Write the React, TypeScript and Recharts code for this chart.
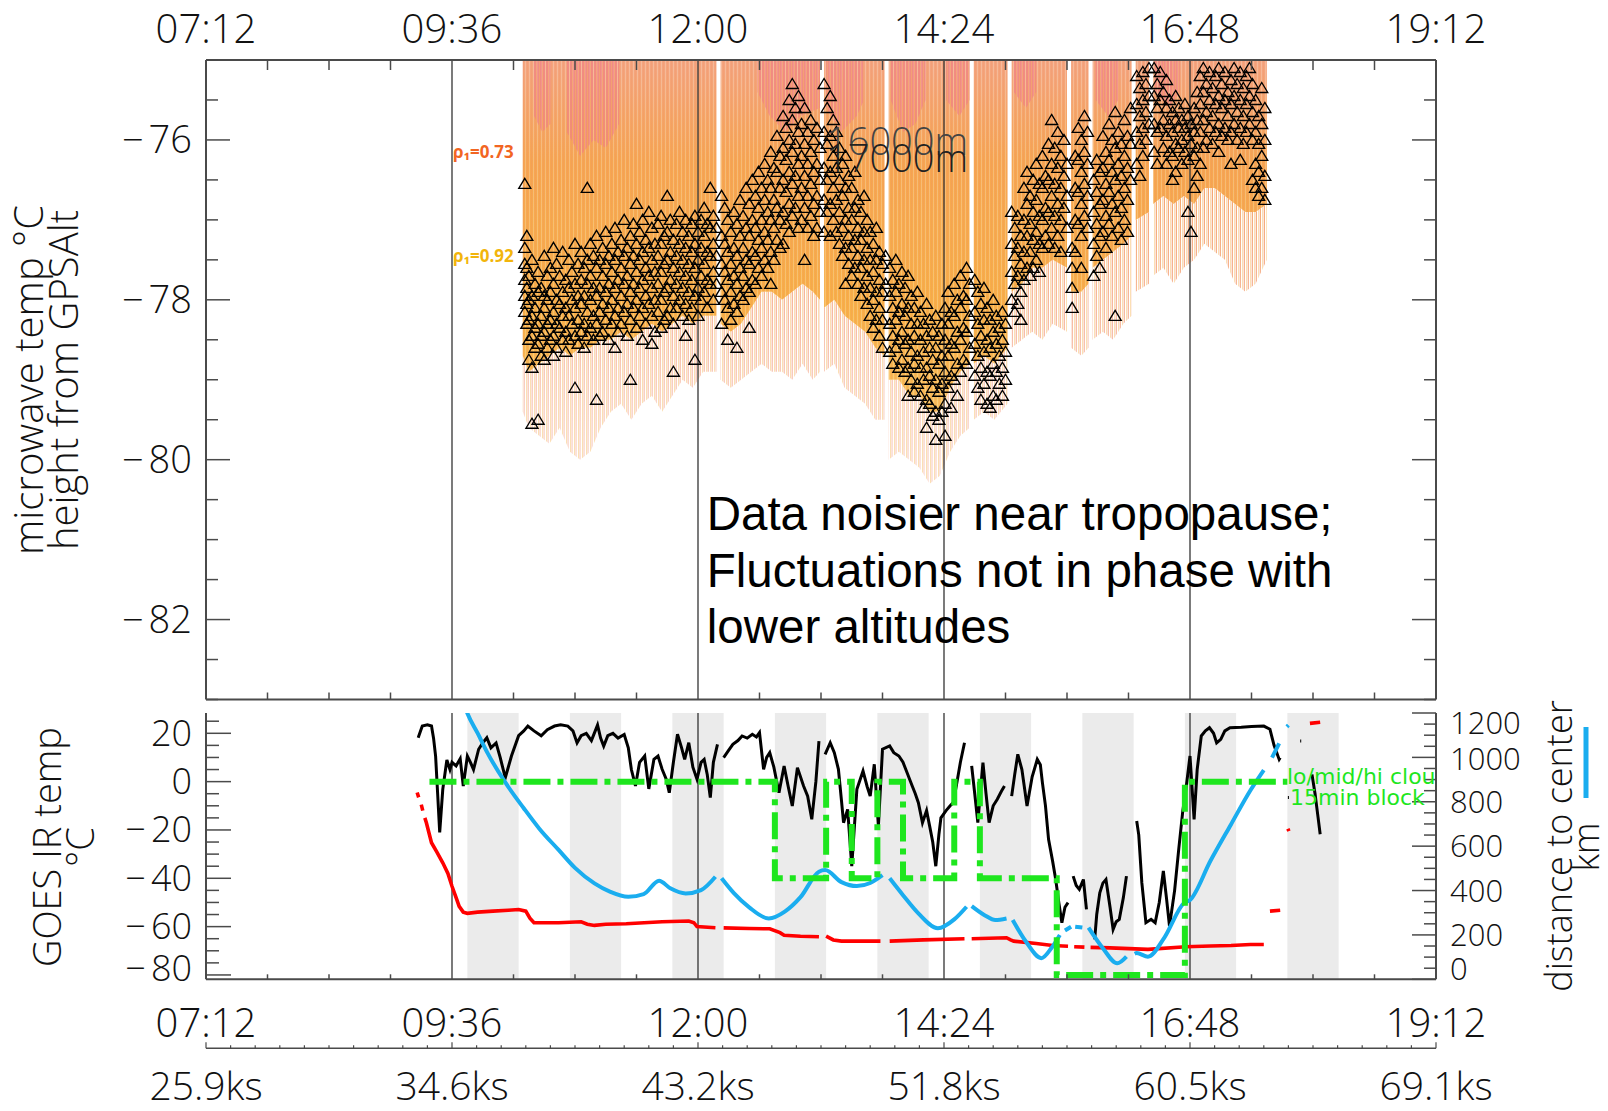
import React from 'react';
import { ComposedChart, Area, Line, Scatter, XAxis, YAxis, ReferenceLine, ReferenceArea } from 'recharts';

// time axis (decimal hours) and its labels
const hourTicks = [7.2, 9.6, 12, 14.4, 16.8, 19.2];
const hourLabels = ['07:12', '09:36', '12:00', '14:24', '16:48', '19:12'];
const ksLabels = ['25.9ks', '34.6ks', '43.2ks', '51.8ks', '60.5ks', '69.1ks'];
const dividerHours = [9.6, 12, 14.4, 16.8];

// microwave temperature at the GPS altitude level: [hour, samples...]
const triangleRows: number[][] = [
  [10.31, -76.55, -77.35, -77.55, -77.75, -77.95, -78.15],
  [10.33, -77.2, -77.6, -77.85, -78.05, -78.3],
  [10.35, -77.7, -78.0, -78.25, -78.5, -78.75],
  [10.38, -77.5, -77.95, -78.2, -78.45, -78.85, -79.55],
  [10.41, -77.8, -78.1, -78.35, -78.6],
  [10.44, -77.65, -77.9, -78.3, -78.55, -79.5],
  [10.47, -77.85, -78.2, -78.45, -78.7],
  [10.5, -77.45, -77.95, -78.1, -78.4, -78.75],
  [10.53, -77.7, -78.0, -78.3, -78.6],
  [10.56, -77.6, -77.9, -78.25, -78.5],
  [10.59, -77.35, -77.8, -78.15, -78.45, -78.7],
  [10.62, -77.55, -78.0, -78.3, -78.6],
  [10.65, -77.7, -78.05, -78.35],
  [10.68, -77.4, -77.9, -78.2, -78.5],
  [10.71, -77.75, -78.1, -78.4, -78.65],
  [10.74, -77.5, -77.85, -78.2, -78.5],
  [10.77, -77.65, -78.0, -78.3],
  [10.8, -77.3, -77.8, -78.1, -78.45, -79.1],
  [10.83, -77.55, -77.95, -78.25, -78.55],
  [10.86, -77.4, -77.75, -78.05, -78.4],
  [10.89, -77.6, -77.95, -78.3, -78.6],
  [10.92, -76.6, -77.5, -77.8, -78.15, -78.45],
  [10.95, -77.3, -77.7, -78.0, -78.35],
  [10.98, -77.45, -77.85, -78.2, -78.5],
  [11.01, -77.2, -77.6, -77.95, -78.3, -79.25],
  [11.04, -77.5, -77.85, -78.15, -78.45],
  [11.07, -77.35, -77.7, -78.05, -78.4],
  [11.1, -77.15, -77.55, -77.9, -78.25],
  [11.13, -77.45, -77.8, -78.1, -78.5],
  [11.16, -77.3, -77.65, -78.0, -78.3],
  [11.19, -77.1, -77.5, -77.85, -78.2, -78.6],
  [11.22, -77.4, -77.75, -78.1, -78.4],
  [11.25, -77.25, -77.6, -77.95, -78.3],
  [11.28, -77.0, -77.45, -77.8, -78.15],
  [11.31, -77.35, -77.7, -78.05, -78.45],
  [11.34, -77.2, -77.55, -77.9, -78.25, -79.0],
  [11.37, -77.05, -77.45, -77.8, -78.1],
  [11.4, -76.8, -77.3, -77.65, -78.0, -78.35],
  [11.43, -77.15, -77.5, -77.85, -78.2],
  [11.46, -77.0, -77.4, -77.75, -78.1, -78.5],
  [11.49, -77.25, -77.6, -77.95, -78.3],
  [11.52, -76.9, -77.35, -77.7, -78.05],
  [11.55, -77.1, -77.5, -77.85, -78.2, -78.55],
  [11.58, -77.3, -77.65, -78.0, -78.4],
  [11.61, -77.05, -77.45, -77.8, -78.15],
  [11.64, -76.95, -77.3, -77.65, -78.0, -78.35],
  [11.67, -77.2, -77.55, -77.9, -78.25],
  [11.7, -76.7, -77.15, -77.5, -77.85, -78.2],
  [11.73, -77.0, -77.4, -77.75, -78.1],
  [11.76, -77.25, -77.6, -77.95, -78.3, -78.9],
  [11.79, -77.05, -77.45, -77.8, -78.1],
  [11.82, -76.9, -77.3, -77.65, -78.0],
  [11.85, -77.15, -77.5, -77.85, -78.2],
  [11.88, -77.0, -77.35, -77.7, -78.05, -78.45],
  [11.91, -77.2, -77.55, -77.9, -78.25],
  [11.94, -77.05, -77.4, -77.75, -78.1],
  [11.97, -76.95, -77.3, -77.6, -77.95, -78.75],
  [12.0, -77.15, -77.5, -77.85, -78.2],
  [12.03, -77.0, -77.35, -77.7, -78.0],
  [12.06, -76.85, -77.2, -77.55, -77.9],
  [12.09, -77.05, -77.4, -77.75, -78.1],
  [12.12, -76.6, -77.1, -77.45, -77.8],
  [12.15, -76.95, -77.3, -77.65, -78.0],
  [12.18, -77.1, -77.45, -77.8],
  [12.23, -76.7, -77.2, -77.55, -77.9, -78.3],
  [12.26, -76.85, -77.3, -77.65, -78.0],
  [12.29, -77.0, -77.4, -77.75, -78.1, -78.5],
  [12.32, -77.15, -77.55, -77.9, -78.25],
  [12.35, -76.9, -77.35, -77.7, -78.05],
  [12.38, -77.05, -77.45, -77.8, -78.15, -78.6],
  [12.41, -76.75, -77.2, -77.6, -77.95],
  [12.44, -76.95, -77.35, -77.7, -78.0],
  [12.47, -76.6, -77.1, -77.5, -77.85],
  [12.5, -76.8, -77.2, -77.55, -77.9, -78.35],
  [12.53, -76.5, -77.0, -77.4, -77.75],
  [12.56, -76.7, -77.1, -77.45, -77.8],
  [12.59, -76.4, -76.85, -77.25, -77.6],
  [12.62, -76.6, -77.0, -77.35, -77.7],
  [12.65, -76.3, -76.75, -77.15, -77.5],
  [12.68, -76.5, -76.9, -77.25, -77.6],
  [12.71, -76.15, -76.6, -77.0, -77.4, -77.8],
  [12.74, -76.35, -76.75, -77.1, -77.5],
  [12.77, -75.95, -76.4, -76.85, -77.25],
  [12.8, -76.2, -76.6, -77.0, -77.35],
  [12.83, -75.7, -76.1, -76.5, -76.9, -77.3],
  [12.86, -75.85, -76.25, -76.65, -77.05],
  [12.89, -75.5, -76.0, -76.4, -76.8, -77.15],
  [12.92, -75.3, -75.75, -76.15, -76.55, -76.95],
  [12.95, -75.6, -76.05, -76.45, -76.85],
  [12.98, -75.45, -75.9, -76.3, -76.7, -77.1],
  [13.01, -75.8, -76.2, -76.6, -77.0],
  [13.04, -75.6, -76.05, -76.45, -76.85, -77.5],
  [13.07, -75.9, -76.3, -76.7, -77.1],
  [13.1, -75.75, -76.15, -76.55, -76.95],
  [13.13, -76.0, -76.4, -76.8, -77.2],
  [13.16, -75.85, -76.3, -76.7, -77.1],
  [13.19, -76.1, -76.5, -76.9],
  [13.23, -75.3, -75.9, -76.35, -76.75, -77.15],
  [13.26, -75.6, -76.05, -76.5, -76.9],
  [13.29, -75.45, -75.95, -76.4, -76.8, -77.2],
  [13.32, -75.75, -76.2, -76.6, -77.0],
  [13.35, -75.9, -76.35, -76.75, -77.15],
  [13.38, -76.1, -76.5, -76.9, -77.3],
  [13.41, -76.3, -76.7, -77.1, -77.45],
  [13.44, -76.2, -76.6, -77.0, -77.35, -77.8],
  [13.47, -76.45, -76.85, -77.2, -77.55],
  [13.5, -76.6, -77.0, -77.35, -77.7],
  [13.53, -76.4, -76.85, -77.25, -77.6],
  [13.56, -76.75, -77.1, -77.45, -77.8],
  [13.59, -76.9, -77.25, -77.6, -77.95],
  [13.62, -76.7, -77.15, -77.5, -77.85],
  [13.65, -77.0, -77.35, -77.7, -78.05],
  [13.68, -77.15, -77.5, -77.85, -78.2],
  [13.71, -77.3, -77.65, -78.0, -78.35],
  [13.74, -77.1, -77.5, -77.9, -78.25],
  [13.77, -77.4, -77.75, -78.1, -78.45],
  [13.8, -77.55, -77.9, -78.25, -78.6],
  [13.83, -77.45, -77.8],
  [13.87, -77.6, -77.95, -78.3, -78.65],
  [13.9, -77.75, -78.1, -78.45, -78.8],
  [13.93, -77.5, -77.9, -78.25, -78.6],
  [13.96, -77.8, -78.15, -78.5, -78.85],
  [13.99, -77.65, -78.05, -78.4, -78.75],
  [14.02, -77.85, -78.2, -78.55, -78.9],
  [14.05, -77.7, -78.1, -78.5, -78.85, -79.2],
  [14.08, -77.95, -78.3, -78.65, -79.0],
  [14.11, -78.1, -78.45, -78.8, -79.15],
  [14.14, -77.9, -78.3, -78.7, -79.05],
  [14.17, -78.15, -78.5, -78.85, -79.2],
  [14.2, -78.3, -78.65, -79.0, -79.35],
  [14.23, -78.05, -78.45, -78.85, -79.25, -79.6],
  [14.26, -78.25, -78.6, -78.95, -79.3],
  [14.29, -78.4, -78.75, -79.1, -79.45],
  [14.32, -78.2, -78.6, -79.0, -79.4, -79.75],
  [14.35, -78.45, -78.8, -79.15, -79.5],
  [14.38, -78.3, -78.7, -79.05, -79.4],
  [14.41, -78.1, -78.5, -78.9, -79.3, -79.7],
  [14.44, -77.9, -78.3, -78.7, -79.1],
  [14.47, -78.15, -78.55, -78.95, -79.35],
  [14.5, -77.8, -78.2, -78.6, -79.0],
  [14.53, -78.0, -78.4, -78.8, -79.2],
  [14.56, -77.7, -78.1, -78.5, -78.9],
  [14.59, -77.95, -78.35, -78.75],
  [14.62, -77.6, -78.0, -78.4, -78.8],
  [14.65, -77.8, -78.2, -78.6],
  [14.7, -77.75, -78.15, -78.55, -78.95],
  [14.73, -77.9, -78.3, -78.7, -79.1],
  [14.76, -78.05, -78.45, -78.85, -79.25],
  [14.79, -77.85, -78.25, -78.65, -79.05],
  [14.82, -78.1, -78.5, -78.9, -79.3],
  [14.85, -78.25, -78.6, -78.95, -79.35],
  [14.88, -78.0, -78.4, -78.8, -79.2],
  [14.91, -78.2, -78.55, -78.9, -79.25],
  [14.94, -78.35, -78.7, -79.05],
  [14.97, -78.15, -78.5, -78.85, -79.2],
  [15.0, -78.3, -78.65, -79.0],
  [15.06, -76.9, -77.3, -77.65, -78.0],
  [15.09, -77.1, -77.45, -77.8, -78.15],
  [15.12, -76.95, -77.35, -77.7, -78.05],
  [15.15, -77.2, -77.55, -77.9, -78.25],
  [15.18, -76.6, -77.0, -77.4, -77.75],
  [15.21, -76.4, -76.8, -77.2, -77.6],
  [15.24, -76.7, -77.05, -77.4, -77.7],
  [15.27, -76.5, -76.9, -77.25, -77.6],
  [15.3, -76.3, -76.75, -77.15, -77.5],
  [15.33, -76.55, -76.95, -77.3, -77.65],
  [15.36, -76.2, -76.6, -77.0, -77.35],
  [15.39, -76.45, -76.85, -77.2],
  [15.42, -76.05, -76.5, -76.9, -77.3],
  [15.45, -75.75, -76.3, -76.7, -77.1],
  [15.48, -76.1, -76.55, -76.95, -77.35],
  [15.51, -75.9, -76.35, -76.8, -77.2],
  [15.54, -76.2, -76.6, -77.0, -77.4],
  [15.57, -76.0, -76.45, -76.85],
  [15.6, -76.3, -76.7, -77.1],
  [15.65, -77.35, -77.6, -77.85, -78.1],
  [15.68, -76.2, -76.6, -77.0, -77.4],
  [15.71, -75.85, -76.25, -76.65, -77.05],
  [15.74, -76.0, -76.4, -76.8, -77.2, -77.6],
  [15.77, -75.7, -76.15, -76.55, -76.95],
  [15.8, -75.9, -76.3, -76.7, -77.1],
  [15.86, -76.5, -76.9, -77.3, -77.7],
  [15.89, -76.25, -76.65, -77.05, -77.45],
  [15.92, -76.4, -76.8, -77.2, -77.6],
  [15.95, -75.95, -76.35, -76.75, -77.15],
  [15.98, -76.15, -76.55, -76.95, -77.35],
  [16.01, -75.8, -76.25, -76.65, -77.05],
  [16.04, -76.0, -76.4, -76.8, -77.2],
  [16.07, -75.65, -76.1, -76.5, -76.9, -78.2],
  [16.1, -75.9, -76.3, -76.7, -77.1],
  [16.13, -76.05, -76.45, -76.85, -77.25],
  [16.16, -75.75, -76.2, -76.6, -77.0],
  [16.19, -75.95, -76.35, -76.75, -77.15],
  [16.22, -75.6, -76.05, -76.5],
  [16.28, -75.2, -75.55, -75.9, -76.3],
  [16.31, -75.35, -75.7, -76.05, -76.45],
  [16.34, -75.15, -75.5, -75.85, -76.2],
  [16.37, -75.3, -75.65, -76.0],
  [16.4, -75.1, -75.45, -75.8],
  [16.45, -75.1, -75.45, -75.8, -76.15],
  [16.48, -75.3, -75.6, -75.9, -76.3],
  [16.51, -75.15, -75.5, -75.85],
  [16.54, -75.4, -75.75, -76.1],
  [16.57, -75.25, -75.6, -75.95, -76.3],
  [16.6, -75.5, -75.8, -76.15],
  [16.63, -75.65, -75.9, -76.2, -76.5],
  [16.66, -75.45, -75.75, -76.05, -76.4],
  [16.69, -75.6, -75.85, -76.1],
  [16.72, -75.75, -76.0, -76.3],
  [16.75, -75.55, -75.85, -76.15],
  [16.78, -75.7, -75.95, -76.25, -76.9],
  [16.81, -75.8, -76.05, -77.15],
  [16.84, -75.6, -75.9, -76.2, -76.6],
  [16.87, -75.4, -75.75, -76.1, -76.45],
  [16.9, -75.2, -75.55, -75.9, -76.3],
  [16.93, -75.1, -75.4, -75.75, -76.1],
  [16.96, -75.3, -75.65, -76.0],
  [16.99, -75.15, -75.5, -75.85],
  [17.02, -75.35, -75.7, -76.05],
  [17.05, -75.2, -75.55, -75.9],
  [17.08, -75.1, -75.45, -75.8, -76.15],
  [17.11, -75.3, -75.6, -75.95],
  [17.14, -75.15, -75.5, -75.85],
  [17.17, -75.4, -75.7, -76.0],
  [17.2, -75.25, -75.55, -75.9, -76.3],
  [17.23, -75.1, -75.45, -75.8],
  [17.26, -75.3, -75.65, -76.0],
  [17.29, -75.15, -75.5, -75.85, -76.25],
  [17.32, -75.35, -75.7, -76.05],
  [17.35, -75.2, -75.55, -75.9],
  [17.38, -75.1, -75.45, -75.8],
  [17.41, -75.3, -75.65, -76.0, -76.5],
  [17.44, -75.5, -75.9, -76.3, -76.6],
  [17.47, -75.7, -76.05, -76.4, -76.7],
  [17.5, -75.35, -75.8, -76.2, -76.6],
  [17.53, -75.6, -76.0, -76.45, -76.75],
];

// spread of the profile retrievals below the level: [hour, faint tail bottom, dense bottom]
const spreadRows: (number | null)[][] = [
  [10.29, -79.4, -78.7], [10.35, -79.6, -78.9], [10.45, -79.7, -78.8], [10.55, -79.8, -78.7],
  [10.65, -79.6, -78.6], [10.75, -79.9, -78.7], [10.85, -80.0, -78.6], [10.95, -79.9, -78.6],
  [11.05, -79.6, -78.5], [11.15, -79.4, -78.5], [11.25, -79.3, -78.4], [11.35, -79.5, -78.5],
  [11.45, -79.3, -78.4], [11.55, -79.2, -78.3], [11.65, -79.4, -78.4], [11.75, -79.2, -78.3],
  [11.85, -79.0, -78.2], [11.95, -79.1, -78.3], [12.05, -78.9, -78.2], [12.18, -78.9, -78.2],
  [12.2, null, null],
  [12.22, -79.0, -78.3], [12.32, -79.1, -78.4], [12.42, -79.0, -78.3], [12.52, -78.9, -78.1],
  [12.62, -78.8, -77.9], [12.72, -78.9, -77.9], [12.82, -78.9, -78.0], [12.92, -79.0, -77.9],
  [13.02, -78.8, -77.8], [13.12, -79.0, -77.9], [13.19, -78.9, -78.0],
  [13.21, null, null],
  [13.23, -78.9, -78.1], [13.33, -78.8, -78.0], [13.43, -79.1, -78.2], [13.53, -79.2, -78.3],
  [13.63, -79.3, -78.4], [13.73, -79.5, -78.6], [13.82, -79.5, -78.7],
  [13.84, null, null],
  [13.86, -80.0, -79.0], [13.96, -79.9, -79.0], [14.06, -80.0, -79.2], [14.16, -80.1, -79.2],
  [14.26, -80.3, -79.4], [14.36, -80.2, -79.4], [14.46, -79.9, -79.1], [14.56, -79.7, -78.9],
  [14.65, -79.6, -78.8],
  [14.67, null, null],
  [14.69, -79.5, -78.8], [14.79, -79.4, -78.7], [14.89, -79.5, -78.8], [15.02, -79.3, -78.6],
  [15.04, null, null],
  [15.06, -78.6, -77.9], [15.16, -78.5, -77.8], [15.26, -78.4, -77.6], [15.36, -78.5, -77.6],
  [15.46, -78.3, -77.5], [15.6, -78.4, -77.6],
  [15.62, null, null],
  [15.64, -78.6, -77.9], [15.74, -78.7, -77.9], [15.81, -78.6, -77.8],
  [15.83, null, null],
  [15.85, -78.5, -77.6], [15.95, -78.4, -77.5], [16.05, -78.5, -77.4], [16.15, -78.3, -77.3],
  [16.23, -78.2, -77.2],
  [16.25, null, null],
  [16.27, -77.9, -77.0], [16.4, -77.8, -76.9],
  [16.42, null, null],
  [16.44, -77.7, -76.8], [16.54, -77.6, -76.7], [16.64, -77.8, -76.8], [16.74, -77.6, -76.7],
  [16.84, -77.5, -76.8], [16.94, -77.3, -76.6], [17.04, -77.4, -76.6], [17.14, -77.5, -76.7],
  [17.24, -77.8, -76.8], [17.34, -77.9, -76.9], [17.44, -77.8, -76.9], [17.55, -77.5, -76.8],
];

// warmer (pink) retrievals near the top of the panel: [hour, lowest value]
const pinkRows: (number | null)[][] = [
  [10.4, -75.7], [10.48, -75.9], [10.56, -75.8], [10.58, null],
  [10.72, -75.9], [10.85, -76.2], [10.98, -76.0], [11.1, -76.1], [11.23, -75.8], [11.25, null],
  [12.58, -75.4], [12.7, -75.7], [12.85, -75.9], [13.0, -75.7], [13.19, -75.6], [13.21, null],
  [13.25, -75.6], [13.4, -75.9], [13.55, -75.7], [13.62, -75.5], [13.64, null],
  [13.88, -75.5], [14.0, -75.9], [14.12, -75.8], [14.22, -75.5], [14.24, null],
  [14.42, -75.5], [14.55, -75.7], [14.65, -75.5], [14.67, null],
  [15.08, -75.4], [15.2, -75.6], [15.3, -75.4], [15.32, null],
  [15.88, -75.5], [16.0, -75.7], [16.1, -75.5], [16.12, null],
  [16.45, -75.4], [16.6, -75.6], [16.7, -75.4],
];

// GOES IR brightness temperature (°C)
const goesRows: (number | null)[][] = [
  [9.27, 18.2], [9.31, 23], [9.36, 23.5], [9.4, 23], [9.42, 18], [9.44, 10.6], [9.46, -5], [9.48, -21],
  [9.51, -3.2], [9.55, 9], [9.58, 5], [9.6, 8], [9.64, 6.5], [9.68, 9.5], [9.71, -1.8], [9.75, 10.6],
  [9.78, 8], [9.81, 5], [9.86, 13.4], [9.9, 16], [9.94, 18.2], [9.98, 14], [10.03, 16], [10.07, 10],
  [10.12, 1.6], [10.18, 10.6], [10.25, 19], [10.3, 21], [10.34, 23], [10.4, 21], [10.47, 19], [10.53, 21.5],
  [10.6, 23], [10.66, 23.5], [10.73, 23], [10.78, 21], [10.82, 16], [10.86, 19], [10.91, 20], [10.96, 17],
  [11.02, 23.4], [11.05, 18], [11.08, 14.7], [11.12, 19], [11.17, 20], [11.22, 18], [11.28, 19.5], [11.32, 14],
  [11.35, 5], [11.39, -1.8], [11.43, 8], [11.48, 10.6], [11.52, -3], [11.57, 9.2], [11.61, 10.6], [11.65, 5.1],
  [11.69, 1], [11.72, -4.6], [11.76, 8], [11.8, 19.6], [11.84, 14], [11.87, 9.2], [11.91, 16.1], [11.95, 6],
  [11.99, 1], [12.03, 8], [12.06, 9.2], [12.09, 3], [12.12, -6.6], [12.15, 8], [12.19, 15.4], [12.21, null],
  [12.25, 9.9], [12.3, 13], [12.34, 15.4], [12.39, 17], [12.43, 18.9], [12.48, 18], [12.53, 19.6], [12.57, 18.5],
  [12.6, 20.3], [12.64, 5.1], [12.67, 10], [12.7, 12], [12.74, 6], [12.79, -4.6], [12.84, 6.5], [12.88, -2],
  [12.92, -10.1], [12.97, 5.8], [13.03, -1.8], [13.07, -6], [13.11, -15.6], [13.15, 0], [13.18, 16.8], [13.21, null],
  [13.24, 11.3], [13.29, 16.1], [13.33, 12], [13.37, 5.1], [13.4, -8], [13.42, -17], [13.46, -11.5], [13.5, -35],
  [13.55, -3.2], [13.61, 4.4], [13.65, -2], [13.68, -6], [13.72, 7.2], [13.76, -18.4], [13.8, 13.4], [13.87, 14.8],
  [13.91, 12], [13.96, 10.6], [14.0, 8], [14.04, 3.7], [14.09, -1.8], [14.12, -5], [14.15, -8.7], [14.19, -17],
  [14.23, -12], [14.26, -18.4], [14.29, -25], [14.32, -35], [14.35, -22], [14.37, -15], [14.42, -12], [14.46, -10],
  [14.49, -8.7], [14.52, -1.8], [14.56, 8], [14.6, 16.1], [14.63, null],
  [14.67, 6.5], [14.7, -5], [14.73, -17], [14.76, -2], [14.78, 7.9], [14.81, -5], [14.84, -17], [14.88, -10],
  [14.92, -7.3], [14.96, -4], [14.99, -1.8], [15.03, null],
  [15.06, -6], [15.09, 3], [15.12, 11.3], [15.16, 5], [15.21, -10.1], [15.26, 2], [15.31, 9.2], [15.34, 7],
  [15.36, -0.4], [15.39, -10], [15.42, -23.9], [15.46, -33], [15.49, -40.5], [15.52, -50], [15.55, -58.4],
  [15.58, -52], [15.61, -50.1], [15.63, null],
  [15.66, -39.1], [15.69, -43], [15.72, -44.6], [15.76, -40.5], [15.79, -52.9], [15.83, null],
  [15.87, -65.3], [15.89, -55], [15.92, -46], [15.95, -42], [15.98, -40.5], [16.02, -52], [16.05, -61.2],
  [16.08, -58], [16.11, -57], [16.15, -48], [16.18, -39.1], [16.23, null],
  [16.28, -16.3], [16.3, -22], [16.33, -41.8], [16.37, -58.4], [16.42, -57], [16.46, -58.4], [16.5, -50],
  [16.54, -37], [16.57, -48], [16.6, -59.8], [16.65, -45], [16.69, -28], [16.73, -12], [16.76, -3.2],
  [16.8, 10.6], [16.84, -15.6], [16.87, 5], [16.91, 18.9], [16.95, 21], [16.99, 22.3], [17.03, 20],
  [17.06, 16], [17.1, 17.5], [17.14, 21], [17.19, 22.3], [17.3, 22.5], [17.4, 22.8], [17.52, 23],
  [17.58, 21.7], [17.62, 15], [17.67, 9.2], [17.68, 9.9], [17.7, null],
  [17.755, -6.6], [17.765, -6.6], [17.77, null],
  [17.875, 16.8], [17.885, 16.8], [17.89, null],
  [17.99, 3], [18.02, -5], [18.05, -15], [18.07, -21.8],
];

// aircraft-level temperature (°C), red
const flightTempRows: (number | null)[][] = [
  [9.26, -4.5], [9.275, -6.5], [9.28, null],
  [9.3, -9.5], [9.315, -12], [9.32, null],
  [9.335, -15], [9.35, -17], [9.4, -25.3], [9.45, -29], [9.51, -33.6], [9.56, -38], [9.6, -43.3],
  [9.64, -48], [9.67, -51.6], [9.71, -54], [9.75, -54.5], [9.85, -54], [10.0, -53.6], [10.15, -53.2],
  [10.25, -52.9], [10.32, -53.6], [10.36, -56.5], [10.4, -58.4], [10.64, -58.4], [10.86, -58],
  [10.92, -59], [10.99, -59.5], [11.1, -59], [11.3, -58.8], [11.65, -58], [11.91, -57.7], [11.96, -58.4],
  [11.99, -60], [12.17, -60.5], [12.21, null],
  [12.25, -60.5], [12.5, -60.8], [12.7, -60.9], [12.8, -62.5], [12.84, -63.6], [13.0, -64], [13.18, -64.2], [13.21, null],
  [13.25, -63.9], [13.32, -65.5], [13.4, -66], [13.78, -66], [13.83, null],
  [13.87, -66], [14.2, -65.5], [14.6, -65], [14.63, null],
  [14.67, -65], [15.01, -64.6], [15.05, -65.5], [15.08, -66], [15.3, -67], [15.46, -67.8], [15.61, -68.1], [15.64, null],
  [15.67, -68.3], [15.77, -68.5], [15.8, null],
  [15.83, -68.6], [16.02, -68.8], [16.39, -69.4], [16.76, -68.3], [17.0, -68], [17.2, -67.8], [17.39, -67.4],
  [17.52, -67.4], [17.55, null],
  [17.58, -53.6], [17.68, -53.2], [17.7, null],
  [17.755, -19.5], [17.765, -20.5], [17.77, null],
  [17.97, 24.1], [18.07, 24.6],
];

// distance to storm center (km)
const distanceRows: (number | null)[][] = [
  [9.7, 1264], [9.749, 1200], [9.85, 1109], [9.95, 1017], [10.12, 887], [10.3, 771], [10.45, 680],
  [10.64, 583], [10.8, 502], [10.99, 432], [11.14, 395], [11.32, 372], [11.47, 384], [11.62, 444],
  [11.73, 410], [11.88, 387], [12.03, 402], [12.17, 462], [12.2, null],
  [12.23, 455], [12.35, 388], [12.5, 324], [12.69, 274], [12.85, 306], [13.0, 370], [13.18, 485],
  [13.24, 492], [13.4, 438], [13.55, 420], [13.68, 434], [13.8, 469], [13.84, null],
  [13.87, 455], [14.0, 379], [14.15, 297], [14.34, 230], [14.5, 270], [14.62, 327], [14.645, null],
  [14.67, 330], [14.8, 288], [14.9, 267], [15.01, 274], [15.04, null],
  [15.07, 267], [15.2, 169], [15.35, 95], [15.45, 142], [15.53, 200], [15.555, null],
  [15.58, 220], [15.64, 237], [15.66, null],
  [15.68, 237], [15.75, 233], [15.78, null],
  [15.81, 233], [15.95, 140], [16.09, 72], [16.18, 102], [16.22, null],
  [16.26, 115], [16.28, 118], [16.39, 102], [16.55, 188], [16.74, 343], [16.8, 357], [17.0, 534],
  [17.2, 698], [17.39, 852], [17.52, 943], [17.56, null],
  [17.6, 999], [17.67, 1063], [17.7, null],
  [17.745, 1138], [17.76, 1145],
];

// lo/mid/hi cloud class, 15 min blocks (0 / -40 / -80 on the left scale)
const cloudRows: number[][] = [
  [9.38, 0], [12.75, -40], [13.25, 0], [13.5, -40], [13.75, 0], [14.0, -40], [14.5, 0],
  [14.75, -40], [15.5, -80], [16.75, 0], [17.75, 0],
];

// shaded half-hour bands in the lower panel
const shadeBands = [
  [9.75, 10.25], [10.75, 11.25], [11.75, 12.25], [12.75, 13.25], [13.75, 14.25],
  [14.75, 15.25], [15.75, 16.25], [16.75, 17.25], [17.75, 18.25],
];

const triangles = triangleRows.flatMap(([t, ...vs]) => vs.map((v) => ({ t, v })));
const spreadData = spreadRows.map(([t, tail, core]) => ({
  t,
  tail: tail == null ? null : [tail, core],
  core: core == null ? null : [core, -75],
}));
const pinkData = pinkRows.map(([t, p]) => ({ t, pink: p == null ? null : [p, -75] }));
const goesData = goesRows.map(([t, v]) => ({ t, v }));
const flightData = flightTempRows.map(([t, v]) => ({ t, v }));
const distData = distanceRows.map(([t, km]) => ({ t, km }));
const cloudData = cloudRows.map(([t, v]) => ({ t, v }));

const steps = (a: number, b: number, d: number) => {
  const out: number[] = [];
  for (let v = a; v <= b + 1e-9; v += d) out.push(Math.round(v * 1000) / 1000);
  return out;
};
const minorHours = steps(7.2, 19.2, 0.6);
const ksTicks = steps(7.2, 19.2, 0.24);
const topTempTicks = steps(-83, -75, 0.5);
const irTicks = steps(-80, 25, 5);
const kmTicks = steps(0, 1200, 50);

const idl = "'Open Sans', 'DejaVu Sans', sans-serif";
const axisColor = '#4a4a4a';
const majorIdx = (v: number) => hourTicks.findIndex((h) => Math.abs(h - v) < 1e-6);
const minus = (v: number) => (v < 0 ? '\u2212' : '');

const TopHourTick = (p: any) => {
  const i = majorIdx(p.payload.value);
  if (i >= 0)
    return (
      <text x={p.x} y={p.y - 17} textAnchor="middle" fontFamily={idl} fontWeight={300} fontSize={40} fill="#111">
        {hourLabels[i]}
      </text>
    );
  return <line x1={p.x} y1={p.y} x2={p.x} y2={p.y + 10} stroke={axisColor} strokeWidth={1.5} />;
};

const InwardUpTick = (p: any) =>
  majorIdx(p.payload.value) >= 0 ? <g /> : <line x1={p.x} y1={p.y} x2={p.x} y2={p.y - 7} stroke={axisColor} strokeWidth={1.5} />;

const TempTick = (p: any) => {
  const v = p.payload.value;
  const major = Math.abs(v % 2) < 1e-6;
  return (
    <g>
      <line x1={p.x} y1={p.y} x2={p.x + (major ? 24 : 12)} y2={p.y} stroke={axisColor} strokeWidth={1.5} />
      {major && v > -83 && v < -75 && (
        <text x={p.x - 14} y={p.y + 13.5} textAnchor="end" fontFamily={idl} fontWeight={300} fontSize={38} fill="#111">
          {'\u2212'}
          <tspan dx={5}>{Math.abs(v)}</tspan>
        </text>
      )}
    </g>
  );
};

const TempTickRight = (p: any) => {
  const major = Math.abs(p.payload.value % 2) < 1e-6;
  return <line x1={p.x} y1={p.y} x2={p.x - (major ? 24 : 12)} y2={p.y} stroke={axisColor} strokeWidth={1.5} />;
};

const IrTick = (p: any) => {
  const v = p.payload.value;
  const major = Math.abs(v % 20) < 1e-6;
  const nudge = v === -80 ? -6 : 0;
  return (
    <g>
      <line x1={p.x} y1={p.y} x2={p.x + (major ? 25 : 13)} y2={p.y} stroke={axisColor} strokeWidth={1.5} />
      {major && (
        <text x={p.x - 14} y={p.y + 12.5 + nudge} textAnchor="end" fontFamily={idl} fontWeight={300} fontSize={36} fill="#111">
          {minus(v)}
          <tspan dx={v < 0 ? 5 : 0}>{Math.abs(v)}</tspan>
        </text>
      )}
    </g>
  );
};

const kmNudge: Record<number, number> = { 1200: 10, 1000: 2, 0: -10 };
const KmTick = (p: any) => {
  const v = p.payload.value;
  const major = v % 200 === 0;
  return (
    <g>
      <line x1={p.x} y1={p.y} x2={p.x - (major ? 24 : 12)} y2={p.y} stroke={axisColor} strokeWidth={1.5} />
      {major && (
        <text x={p.x + 14} y={p.y + 11 + (kmNudge[v] || 0)} textAnchor="start" fontFamily={idl} fontWeight={300} fontSize={31} fill="#111">
          {v}
        </text>
      )}
    </g>
  );
};

const BottomHourTick = (p: any) => {
  const i = majorIdx(p.payload.value);
  if (i >= 0)
    return (
      <text x={p.x} y={p.y + 58} textAnchor="middle" fontFamily={idl} fontWeight={300} fontSize={40} fill="#111">
        {hourLabels[i]}
      </text>
    );
  return <line x1={p.x} y1={p.y} x2={p.x} y2={p.y - 5} stroke={axisColor} strokeWidth={1.5} />;
};

const KsTick = (p: any) => {
  const i = majorIdx(p.payload.value);
  return (
    <g>
      <line x1={p.x} y1={p.y} x2={p.x} y2={p.y - (i >= 0 ? 6 : 3)} stroke={axisColor} strokeWidth={1.2} />
      {i >= 0 && (
        <text x={p.x} y={p.y + 52} textAnchor="middle" fontFamily={idl} fontWeight={300} fontSize={39} fill="#111">
          {ksLabels[i]}
        </text>
      )}
    </g>
  );
};

const Triangle = (p: any) => (
  <path
    d={`M${p.cx},${p.cy - 5.5}L${p.cx + 6},${p.cy + 4.5}L${p.cx - 6},${p.cy + 4.5}Z`}
    fill="none"
    stroke="#000"
    strokeWidth={1.35}
  />
);

const axisLine = { stroke: axisColor, strokeWidth: 2 };

const UpperPanel = () => (
  <ComposedChart width={1608} height={710} margin={{ top: 0, right: 171, bottom: 9.5, left: 86 }}>
    <defs>
      <linearGradient id="coreGrad" gradientUnits="userSpaceOnUse" x1="0" y1="60" x2="0" y2="470">
        <stop offset="0" stopColor="#F3A07A" />
        <stop offset="0.25" stopColor="#F5A148" />
        <stop offset="0.6" stopColor="#F7AC3C" />
        <stop offset="1" stopColor="#F9C45C" />
      </linearGradient>
      <linearGradient id="tailGrad" gradientUnits="userSpaceOnUse" x1="0" y1="200" x2="0" y2="470">
        <stop offset="0" stopColor="#F39A5A" stopOpacity="0.85" />
        <stop offset="0.5" stopColor="#F2946E" stopOpacity="0.6" />
        <stop offset="1" stopColor="#F4A890" stopOpacity="0.3" />
      </linearGradient>
      <pattern id="coreTex" patternUnits="userSpaceOnUse" x="0" y="0" width="4" height="720">
        <rect x="0" y="0" width="4" height="720" fill="url(#coreGrad)" />
        <rect x="1" y="0" width="1" height="720" fill="#ffffff" opacity="0.22" />
        <rect x="3" y="0" width="1" height="720" fill="#EC8460" opacity="0.22" />
      </pattern>
      <pattern id="tailTex" patternUnits="userSpaceOnUse" x="0" y="0" width="4" height="720">
        <rect x="0" y="0" width="1" height="720" fill="url(#tailGrad)" />
        <rect x="2" y="0" width="1" height="720" fill="#F7B858" opacity="0.45" />
        <rect x="3" y="0" width="1" height="720" fill="#F3A48C" opacity="0.3" />
      </pattern>
      <pattern id="pinkTex" patternUnits="userSpaceOnUse" x="0" y="0" width="3" height="720">
        <rect x="0" y="0" width="2" height="720" fill="#EE7A86" opacity="0.55" />
      </pattern>
    </defs>
    <XAxis xAxisId="t" dataKey="t" type="number" orientation="top" domain={[7.2, 19.2]} allowDataOverflow
      ticks={minorHours} interval={0} height={60} tickSize={0} tickMargin={0} tickLine={false} axisLine={axisLine} tick={TopHourTick} />
    <XAxis xAxisId="b" dataKey="t" type="number" orientation="bottom" domain={[7.2, 19.2]} allowDataOverflow
      ticks={minorHours} interval={0} height={1} tickSize={0} tickMargin={0} tickLine={false} axisLine={axisLine} tick={InwardUpTick} />
    <YAxis yAxisId="l" dataKey="v" type="number" orientation="left" domain={[-83, -75]} allowDataOverflow
      ticks={topTempTicks} interval={0} width={120} tickSize={0} tickMargin={0} tickLine={false} axisLine={axisLine} tick={TempTick} />
    <YAxis yAxisId="r" type="number" orientation="right" domain={[-83, -75]} allowDataOverflow
      ticks={topTempTicks} interval={0} width={1} tickSize={0} tickMargin={0} tickLine={false} axisLine={axisLine} tick={TempTickRight} />
    <Area xAxisId="b" yAxisId="r" data={spreadData} dataKey="tail" type="linear" stroke="none" fill="url(#tailTex)" fillOpacity={1} isAnimationActive={false} />
    <Area xAxisId="b" yAxisId="r" data={spreadData} dataKey="core" type="linear" stroke="none" fill="url(#coreTex)" fillOpacity={0.95} isAnimationActive={false} />
    <Area xAxisId="b" yAxisId="r" data={pinkData} dataKey="pink" type="linear" stroke="none" fill="url(#pinkTex)" fillOpacity={1} isAnimationActive={false} />
    {dividerHours.map((h) => (
      <ReferenceLine key={h} xAxisId="t" yAxisId="l" x={h} stroke="#333" strokeWidth={1.3} />
    ))}
    <Scatter xAxisId="t" yAxisId="l" data={triangles} dataKey="v" shape={Triangle} isAnimationActive={false} />
  </ComposedChart>
);

const LowerPanel = () => (
  <ComposedChart width={1608} height={411} margin={{ top: 13, right: 171, bottom: 0, left: 86 }}>
    <XAxis xAxisId="h" dataKey="t" type="number" orientation="bottom" domain={[7.2, 19.2]} allowDataOverflow
      ticks={minorHours} interval={0} height={69} tickSize={0} tickMargin={0} tickLine={false} axisLine={axisLine} tick={BottomHourTick} />
    <XAxis xAxisId="ks" dataKey="t" type="number" orientation="bottom" domain={[7.2, 19.2]} allowDataOverflow
      ticks={ksTicks} interval={0} height={62.7} tickSize={0} tickMargin={0} tickLine={false}
      axisLine={{ stroke: axisColor, strokeWidth: 1.5 }} tick={KsTick} />
    <YAxis yAxisId="L" dataKey="v" type="number" orientation="left" domain={[-81.8, 28.4]} allowDataOverflow
      ticks={irTicks} interval={0} width={120} tickSize={0} tickMargin={0} tickLine={false} axisLine={axisLine} tick={IrTick} />
    <YAxis yAxisId="R" type="number" orientation="right" domain={[0, 1200]} allowDataOverflow
      ticks={kmTicks} interval={0} width={1} tickSize={0} tickMargin={0} tickLine={false} axisLine={axisLine} tick={KmTick} />
    {shadeBands.map(([a, b]) => (
      <ReferenceArea key={a} xAxisId="h" yAxisId="L" x1={a} x2={b} fill="#EBEBEB" fillOpacity={1} stroke="none" />
    ))}
    {dividerHours.map((h) => (
      <ReferenceLine key={h} xAxisId="h" yAxisId="L" x={h} stroke="#333" strokeWidth={1.3} />
    ))}
    <Line xAxisId="h" yAxisId="L" data={flightData} dataKey="v" type="linear" stroke="#FF0000" strokeWidth={3.6} dot={false} isAnimationActive={false} />
    <Line xAxisId="h" yAxisId="L" data={goesData} dataKey="v" type="linear" stroke="#000" strokeWidth={3} dot={false} isAnimationActive={false} />
    <Line xAxisId="h" yAxisId="R" data={distData} dataKey="km" type="monotone" stroke="#1AADEF" strokeWidth={4} dot={false} isAnimationActive={false} />
    <Line xAxisId="ks" yAxisId="L" data={cloudData} dataKey="v" type="stepAfter" stroke="#1EE61E" strokeWidth={6}
      strokeDasharray="27 7 6 7" dot={false} isAnimationActive={false} />
  </ComposedChart>
);

const Overlay = () => (
  <svg width={1608} height={1111} style={{ position: 'absolute', left: 0, top: 0, pointerEvents: 'none' }}>
    <defs>
      <clipPath id="lowerPlot">
        <rect x={206} y={700} width={1230} height={290} />
      </clipPath>
    </defs>
    <g fontFamily={idl} fontWeight={300} fill="#111">
      <text transform="translate(43,380) rotate(-90)" textAnchor="middle" fontSize={40}>microwave temp °C</text>
      <text transform="translate(78,380) rotate(-90)" textAnchor="middle" fontSize={40}>height from GPSAlt</text>
      <text transform="translate(61,847) rotate(-90)" textAnchor="middle" fontSize={38}>GOES IR temp</text>
      <text transform="translate(94,847) rotate(-90)" textAnchor="middle" fontSize={38}>°C</text>
      <text transform="translate(1572,846) rotate(-90)" textAnchor="middle" fontSize={36}>distance to center</text>
      <text transform="translate(1599,847) rotate(-90)" textAnchor="middle" fontSize={36}>km</text>
      <text x={826} y={155} fontSize={38} fill="#444">16000m</text>
      <text x={826} y={172} fontSize={38} fill="#222">17000m</text>
    </g>
    <line x1={1586} y1={727} x2={1586} y2={798} stroke="#1AADEF" strokeWidth={5} />
    <g fontFamily="'Open Sans', sans-serif" fontWeight={700} fontSize={17}>
      <text x={453} y={158} fill="#F26522">ρ₁=0.73</text>
      <text x={453} y={262} fill="#F2B50C">ρ₁=0.92</text>
    </g>
    <g clipPath="url(#lowerPlot)" fontFamily="'DejaVu Sans', sans-serif" fontSize={22} fill="#1EE61E">
      <text x={1287} y={784}>lo/mid/hi cloud</text>
      <text x={1290} y={805}>15min block</text>
    </g>
    <g fontFamily="'Liberation Sans', Arial, sans-serif" fontSize={47.5} fill="#000">
      <text x={706.7} y={530}>Data noisier near tropopause;</text>
      <text x={706.7} y={586.7}>Fluctuations not in phase with</text>
      <text x={706.7} y={643.3}>lower altitudes</text>
    </g>
  </svg>
);

export default function App() {
  return (
    <div style={{ position: 'absolute', left: 0, top: 0, width: 1608, height: 1111, background: '#fff' }}>
      <div style={{ position: 'absolute', left: 0, top: 0 }}>
        <UpperPanel />
      </div>
      <div style={{ position: 'absolute', left: 0, top: 700 }}>
        <LowerPanel />
      </div>
      <Overlay />
    </div>
  );
}
